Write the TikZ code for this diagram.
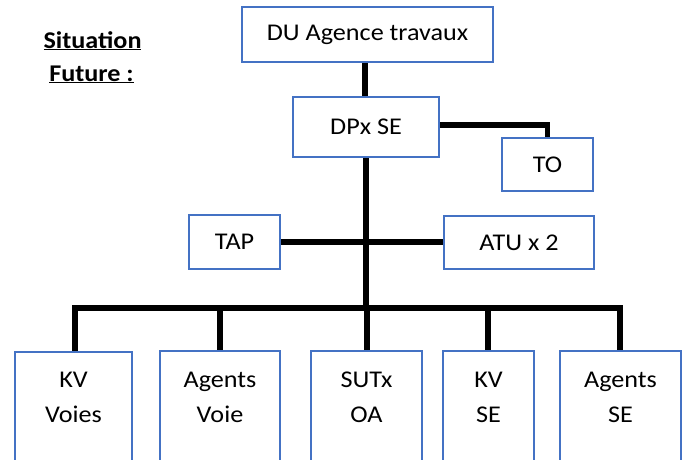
\documentclass[tikz,border=0pt]{standalone}
\usepackage{fontspec}
\setmainfont{Carlito}[FakeStretch=1.09]
\definecolor{boxblue}{HTML}{4472C4}
\tikzset{
  orgbox/.style={draw=boxblue, line width=2pt, fill=white, inner sep=0pt, font=\fontsize{24}{35}\selectfont},
  conn/.style={line width=5.2pt, black},
  lowtext/.style={anchor=north, inner sep=0pt, align=center, font=\fontsize{24}{35}\selectfont}
}
\begin{document}
\begin{tikzpicture}[x=1pt,y=-1pt]
\useasboundingbox (0,0) rectangle (687,459);
\clip (0,0) rectangle (687,459);
% connectors first
\coordinate (busL) at (72.4,308);
\coordinate (busR) at (622.6,308);
\coordinate (busM) at (366,308);
\draw[conn] (365,34) -- (365,127);
\draw[conn] (366,125) -- (550,125);
\draw[conn] (547.5,122.4) -- (547.5,164);
\draw[conn] (366,127) -- (busM);
\draw[conn] (234,242) -- (519,242);
\draw[conn] (busL) -- (busR);
\foreach \x in {75,220,367,488,620}{\draw[conn] (\x,308) -- (\x,400);}
% nodes
\node[orgbox, minimum width=251pt, minimum height=55pt] (du) at (367.5,34.5) {DU Agence travaux};
\node[orgbox, minimum width=146pt, minimum height=60pt] (dpx) at (366,127) {DPx SE};
\node[orgbox, minimum width=91pt, minimum height=53pt] (to) at (547.5,164.5) {TO};
\node[orgbox, minimum width=91pt, minimum height=54pt] (tap) at (234.5,242) {TAP};
\node[orgbox, minimum width=150pt, minimum height=53pt] (atu) at (519,242.5) {ATU x 2};
\node[orgbox, anchor=north, minimum width=117pt, minimum height=130pt] (b1) at (73.5,351) {};
\node[orgbox, anchor=north, minimum width=120pt, minimum height=130pt] (b2) at (220,350) {};
\node[orgbox, anchor=north, minimum width=111pt, minimum height=130pt] (b3) at (366.5,350) {};
\node[orgbox, anchor=north, minimum width=91pt, minimum height=130pt] (b4) at (488.5,350) {};
\node[orgbox, anchor=north, minimum width=121pt, minimum height=130pt] (b5) at (620.5,350) {};
\node[lowtext] (t1) at (73.5,372) {KV\\Voies};
\node[lowtext] (t2) at (220,372) {Agents\\Voie};
\node[lowtext] (t3) at (366.5,372) {SUTx\\OA};
\node[lowtext] (t4) at (488.5,372) {KV\\SE};
\node[lowtext] (t5) at (620.5,372) {Agents\\SE};
% title
\node[anchor=base, inner sep=0pt, font=\fontsize{24}{28}\selectfont\bfseries] (s1) at (92.5,48) {\underline{Situation}};
\node[anchor=base, inner sep=0pt, font=\fontsize{24}{28}\selectfont\bfseries] (s2) at (91.5,81) {\underline{Future :}};
\end{tikzpicture}
\end{document}
